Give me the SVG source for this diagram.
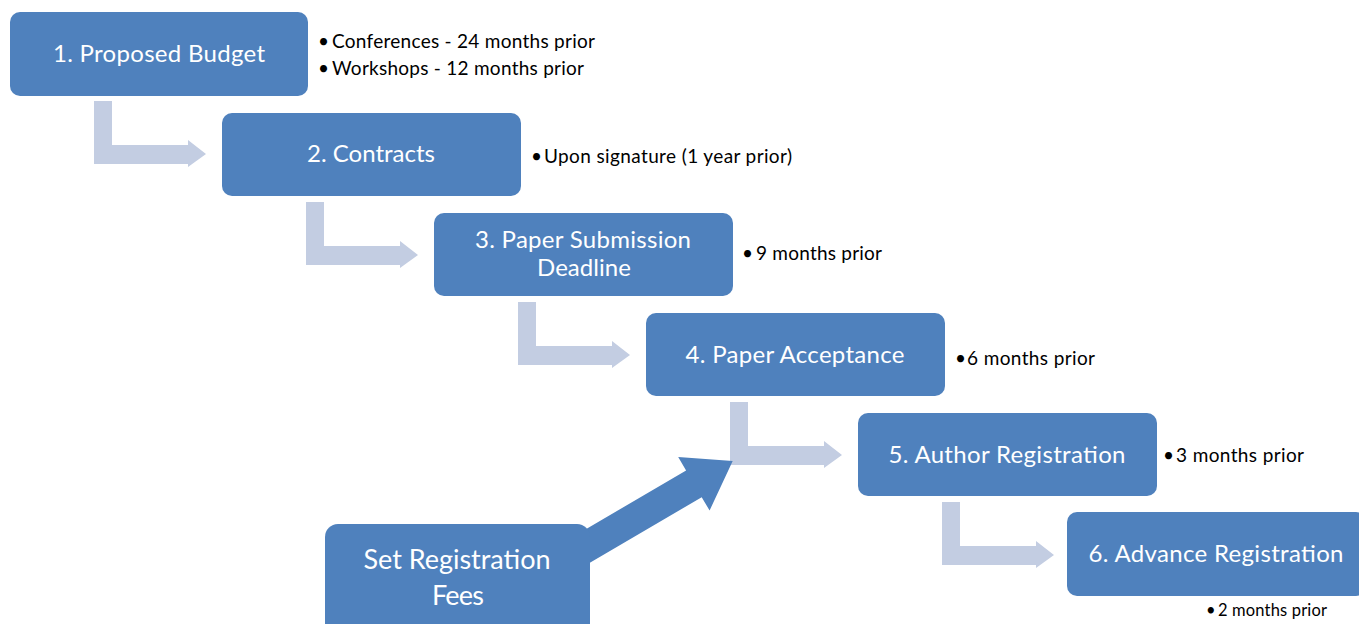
<svg xmlns="http://www.w3.org/2000/svg" width="1359" height="624" viewBox="0 0 1359 624">
<style>
.box{fill:#4F81BD;}
.lbl{fill:#FFFFFF;font-family:Lato,"Liberation Sans",sans-serif;font-size:24px;text-anchor:middle;}
.big{font-size:27px;}
.note{fill:#000000;font-family:Lato,"Liberation Sans",sans-serif;font-size:19px;}
.small{font-size:16.5px;}
.elbow{fill:#C3CDE2;}
.thick{fill:#4F81BD;}
</style>
<defs>
<path id="elb" d="M0,0 H18 V44 H94 V39 L112,53 L94,66 V63 H0 Z"/>
</defs>
<rect width="1359" height="624" fill="#FFFFFF"/>
<g id="connectors">
<use href="#elb" class="elbow" x="94" y="101"/>
<use href="#elb" class="elbow" x="306" y="202"/>
<use href="#elb" class="elbow" x="518" y="302"/>
<use href="#elb" class="elbow" x="730" y="402"/>
<use href="#elb" class="elbow" x="942" y="502"/>
<polygon class="thick" points="556.8,546.3 686.1,470.4 678.2,457.1 732.7,461 709.6,510.5 701.7,497.2 572.4,573.1"/>
</g>
<g id="node1">
<rect class="box" x="10" y="12" width="298" height="84" rx="10"/>
<text class="lbl" x="159" y="62" textLength="212">1. Proposed Budget</text>
<text class="note" x="318" y="48">•</text>
<text class="note" x="332" y="48" textLength="263">Conferences - 24 months prior</text>
<text class="note" x="318" y="75">•</text>
<text class="note" x="332" y="75" textLength="252">Workshops - 12 months prior</text>
</g>
<g id="node2">
<rect class="box" x="222" y="113" width="299" height="83" rx="10"/>
<text class="lbl" x="371" y="162" textLength="128">2. Contracts</text>
<text class="note" x="531" y="163">•</text>
<text class="note" x="544" y="163" textLength="248">Upon signature (1 year prior)</text>
</g>
<g id="node3">
<rect class="box" x="434" y="213" width="299" height="83" rx="10"/>
<text class="lbl" x="583" y="248" textLength="216">3. Paper Submission</text>
<text class="lbl" x="584" y="276" textLength="94">Deadline</text>
<text class="note" x="742" y="260">•</text>
<text class="note" x="756" y="260" textLength="126">9 months prior</text>
</g>
<g id="node4">
<rect class="box" x="646" y="313" width="299" height="83" rx="10"/>
<text class="lbl" x="795" y="363" textLength="219">4. Paper Acceptance</text>
<text class="note" x="955" y="365">•</text>
<text class="note" x="967" y="365" textLength="128">6 months prior</text>
</g>
<g id="node5">
<rect class="box" x="858" y="413" width="299" height="83" rx="10"/>
<text class="lbl" x="1007" y="463" textLength="237">5. Author Registration</text>
<text class="note" x="1163" y="462">•</text>
<text class="note" x="1176" y="462" textLength="128">3 months prior</text>
</g>
<g id="node6">
<rect class="box" x="1067" y="512" width="299" height="84" rx="10"/>
<text class="lbl" x="1216" y="562" textLength="255">6. Advance Registration</text>
<text class="note small" x="1206" y="616">•</text>
<text class="note small" x="1218" y="616" textLength="109">2 months prior</text>
</g>
<g id="node7">
<rect class="box" x="325" y="524" width="265" height="120" rx="13"/>
<text class="lbl big" x="457" y="569" textLength="187">Set Registration</text>
<text class="lbl big" x="458" y="605" textLength="52">Fees</text>
</g>
</svg>
